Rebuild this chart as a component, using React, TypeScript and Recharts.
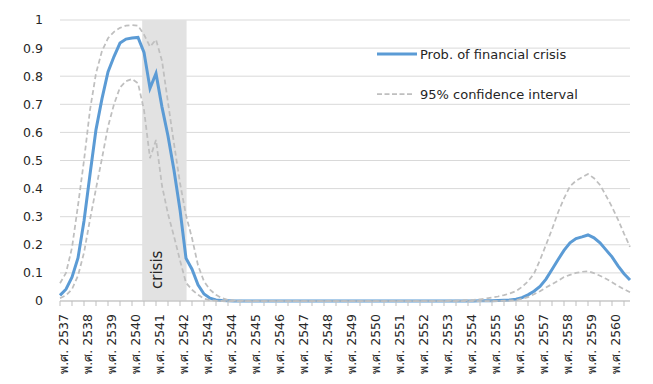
import { LineChart, Line, XAxis, YAxis, CartesianGrid, ReferenceArea, Legend } from 'recharts';

// Buddhist-era years, one label per 4 quarters
const years = [
  '2537', '2538', '2539', '2540', '2541', '2542', '2543', '2544', '2545', '2546', '2547', '2548',
  '2549', '2550', '2551', '2552', '2553', '2554', '2555', '2556', '2557', '2558', '2559', '2560',
];

// quarterly probability of financial crisis, 2537 Q1 .. 2560 Q4
const prob = [
  0.02, 0.042, 0.085, 0.153, 0.285, 0.45, 0.61, 0.72,
  0.815, 0.87, 0.918, 0.932, 0.936, 0.938, 0.885, 0.757,
  0.81, 0.69, 0.587, 0.465, 0.325, 0.152, 0.113, 0.058,
  0.025, 0.01, 0.004, 0.002, 0.001, 0, 0, 0,
  0, 0, 0, 0, 0, 0, 0, 0,
  0, 0, 0, 0, 0, 0, 0, 0,
  0, 0, 0, 0, 0, 0, 0, 0,
  0, 0, 0, 0, 0, 0, 0, 0,
  0, 0, 0, 0, 0, 0, 0.001, 0.001,
  0.001, 0.002, 0.003, 0.004, 0.006, 0.012, 0.022, 0.035,
  0.052, 0.078, 0.112, 0.147, 0.18, 0.207, 0.222, 0.228,
  0.235, 0.225, 0.207, 0.182, 0.157, 0.125, 0.097, 0.075,
];

const upper = [
  0.063, 0.1, 0.19, 0.34, 0.5, 0.68, 0.81, 0.89,
  0.935, 0.958, 0.972, 0.98, 0.982, 0.98, 0.948, 0.905,
  0.93, 0.855, 0.706, 0.56, 0.42, 0.305, 0.224, 0.127,
  0.07, 0.04, 0.022, 0.01, 0.004, 0.002, 0.001, 0,
  0, 0, 0, 0, 0, 0, 0, 0,
  0, 0, 0, 0, 0, 0, 0, 0,
  0, 0, 0, 0, 0, 0, 0, 0,
  0, 0, 0, 0, 0, 0, 0, 0,
  0, 0.001, 0.001, 0.002, 0.003, 0.004, 0.006, 0.009,
  0.012, 0.016, 0.021, 0.027, 0.035, 0.05, 0.07, 0.097,
  0.146, 0.2, 0.255, 0.315, 0.365, 0.408, 0.428, 0.44,
  0.452, 0.437, 0.413, 0.375, 0.335, 0.29, 0.24, 0.193,
];

const lower = [
  0.01, 0.02, 0.042, 0.09, 0.172, 0.29, 0.4, 0.508,
  0.62, 0.7, 0.76, 0.782, 0.79, 0.775, 0.68, 0.508,
  0.573, 0.41, 0.31, 0.23, 0.145, 0.065, 0.04, 0.022,
  0.008, 0.003, 0.001, 0, 0, 0, 0, 0,
  0, 0, 0, 0, 0, 0, 0, 0,
  0, 0, 0, 0, 0, 0, 0, 0,
  0, 0, 0, 0, 0, 0, 0, 0,
  0, 0, 0, 0, 0, 0, 0, 0,
  0, 0, 0, 0, 0, 0, 0, 0,
  0, 0, 0.001, 0.002, 0.003, 0.008, 0.014, 0.024,
  0.035, 0.048, 0.06, 0.072, 0.085, 0.093, 0.1, 0.104,
  0.106, 0.099, 0.09, 0.079, 0.067, 0.054, 0.042, 0.031,
];

const yTicks = [0, 0.1, 0.2, 0.3, 0.4, 0.5, 0.6, 0.7, 0.8, 0.9, 1];

// crisis period, in quarters from 2537 Q1
const crisisStart = 13.7;
const crisisEnd = 21.1;

const data = prob.map((p, i) => ({ q: i, prob: p, upper: upper[i], lower: lower[i] }));
const xTicks = data.filter((d) => d.q % 2 === 0).map((d) => d.q);

const FONT = '"DejaVu Sans", sans-serif';
const BLUE = '#5b9bd5';
const GREY = '#bfbfbf';
const TEXT = '#262626';

function YearTick({ x, y, payload }: any) {
  const q = payload.value;
  if (q % 4 !== 0) return null;
  const label = `พ.ศ. ${years[q / 4]}`;
  const tx = x + 3;
  const ty = y + 6;
  return (
    <text
      x={tx}
      y={ty}
      transform={`rotate(-90, ${tx}, ${ty})`}
      textAnchor="end"
      dominantBaseline="central"
      fontFamily={FONT}
      fontSize={12.5}
      fill={TEXT}
    >
      {label}
    </text>
  );
}

function CrisisLabel({ viewBox }: any) {
  if (!viewBox) return null;
  const tx = viewBox.x + 19.5;
  const ty = viewBox.y + viewBox.height - 12;
  return (
    <text x={tx} y={ty} transform={`rotate(-90, ${tx}, ${ty})`} fontFamily={FONT} fontSize={15} fill={TEXT}>
      crisis
    </text>
  );
}

function ChartLegend() {
  return (
    <div style={{ position: 'relative', width: 220, height: 60, fontFamily: FONT, fontSize: 13, color: TEXT }}>
      <div style={{ position: 'absolute', top: 0, left: 0, height: 20, display: 'flex', alignItems: 'center', whiteSpace: 'nowrap' }}>
        <svg width={42} height={6} style={{ marginRight: 1 }}>
          <line x1={0} y1={3} x2={40} y2={3} stroke={BLUE} strokeWidth={3} />
        </svg>
        Prob. of financial crisis
      </div>
      <div style={{ position: 'absolute', top: 40, left: 0, height: 20, display: 'flex', alignItems: 'center', whiteSpace: 'nowrap' }}>
        <svg width={42} height={6} style={{ marginRight: 1 }}>
          <line x1={0} y1={3} x2={37} y2={3} stroke={GREY} strokeWidth={1.75} strokeDasharray="5 2.5" />
        </svg>
        95% confidence interval
      </div>
    </div>
  );
}

export default function App() {
  return (
    <div style={{ position: 'absolute', left: 0, top: 0, background: '#fff' }}>
      <LineChart width={653} height={384} data={data} margin={{ top: 20, right: 23, left: 0, bottom: 0 }}>
        <CartesianGrid vertical={false} stroke="#d9d9d9" />
        <ReferenceArea x1={crisisStart} x2={crisisEnd} y1={0} y2={1} fill="#e2e2e2" fillOpacity={1} stroke="none" label={<CrisisLabel />} />
        <XAxis
          type="number"
          dataKey="q"
          domain={[0, 95]}
          ticks={xTicks}
          interval={0}
          tick={<YearTick />}
          tickLine={{ stroke: '#bfbfbf' }}
          tickSize={5}
          axisLine={{ stroke: '#bfbfbf' }}
          height={83}
        />
        <YAxis
          type="number"
          domain={[0, 1]}
          ticks={yTicks}
          axisLine={false}
          tickLine={false}
          tickMargin={11}
          width={60}
          tick={{ fontFamily: FONT, fontSize: 12.5, fill: TEXT }}
          tickFormatter={(v: number) => String(Math.round(v * 10) / 10)}
        />
        <Legend
          layout="vertical"
          align="center"
          verticalAlign="middle"
          content={<ChartLegend />}
          wrapperStyle={{ top: 44, left: 377, width: 'auto' }}
        />
        <Line type="linear" dataKey="prob" stroke={BLUE} strokeWidth={3} dot={false} isAnimationActive={false} />
        <Line type="linear" dataKey="upper" stroke={GREY} strokeWidth={1.75} strokeDasharray="5 3" dot={false} isAnimationActive={false} />
        <Line type="linear" dataKey="lower" stroke={GREY} strokeWidth={1.75} strokeDasharray="5 3" dot={false} isAnimationActive={false} />
      </LineChart>
    </div>
  );
}
